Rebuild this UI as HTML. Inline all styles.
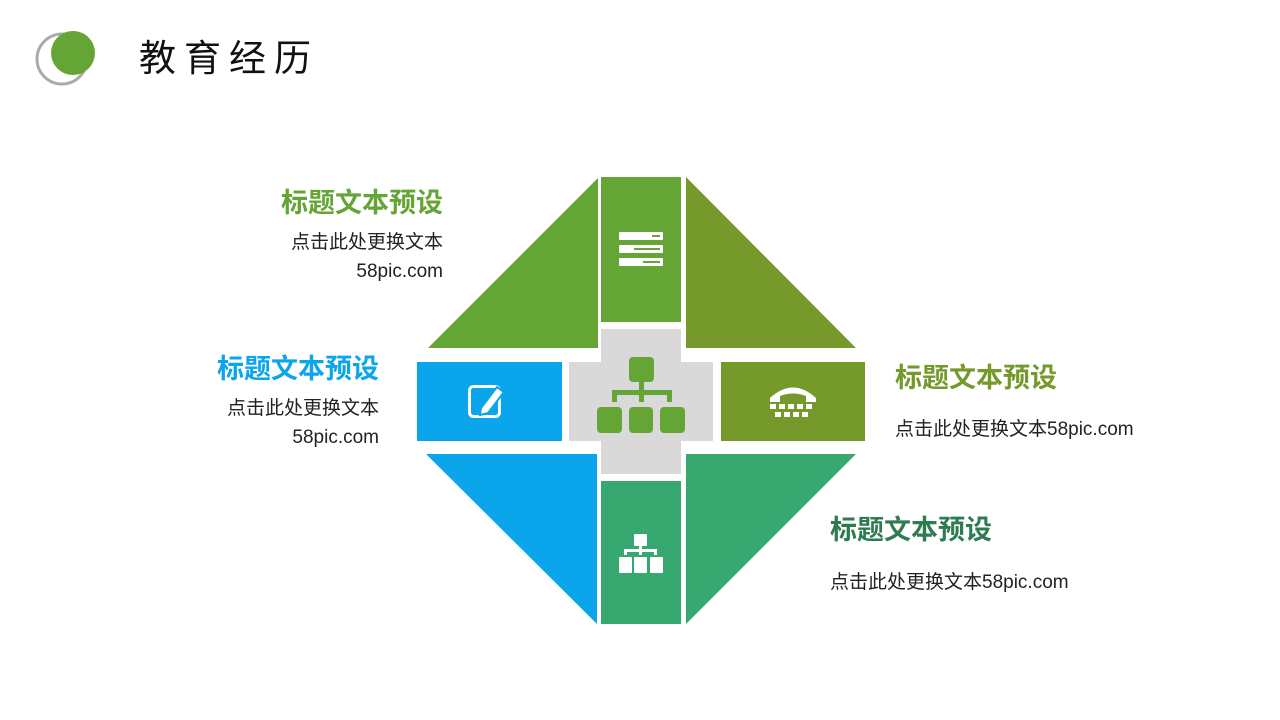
<!DOCTYPE html>
<html><head><meta charset="utf-8"><style>
body{margin:0;width:1280px;height:720px;background:#fff;position:relative;overflow:hidden;font-family:"Liberation Sans","Noto Sans CJK SC",sans-serif}
.t{position:absolute;font-weight:bold;font-size:27px;white-space:nowrap;line-height:32px}
.b{position:absolute;font-size:19px;color:#222;white-space:nowrap;line-height:29px}
.r{text-align:right}
</style></head><body>
<svg width="1280" height="720" style="position:absolute;left:0;top:0">
<circle cx="62" cy="59" r="25" fill="none" stroke="#aaa" stroke-width="3"/>
<circle cx="73" cy="53" r="22" fill="#65a536"/>
<polygon points="428,348 598,178 598,348" fill="#65a536"/>
<rect x="601" y="177" width="80" height="145" fill="#65a536"/>
<polygon points="686,177 686,348 856,348" fill="#76992b"/>
<rect x="417" y="362" width="145" height="79" fill="#0aa5ea"/>
<rect x="601" y="329" width="80" height="145" fill="#d9d9d9"/>
<rect x="569" y="362" width="144" height="79" fill="#d9d9d9"/>
<rect x="721" y="362" width="144" height="79" fill="#76992b"/>
<polygon points="426,454 597,454 597,624" fill="#0aa5ea"/>
<rect x="601" y="481" width="80" height="143" fill="#37a86f"/>
<polygon points="686,454 856,454 686,624" fill="#37a86f"/>
<g fill="#fff"><rect x="619" y="232" width="44" height="8" rx="1"/><rect x="619" y="245" width="44" height="8" rx="1"/><rect x="619" y="258" width="44" height="8" rx="1"/></g>
<g fill="#65a536"><rect x="652" y="235" width="8" height="2"/><rect x="634" y="248" width="26" height="2"/><rect x="643" y="261" width="17" height="2"/></g>
<g fill="#65a536"><rect x="629" y="357" width="25" height="25" rx="4"/><rect x="639" y="380" width="5" height="12"/><rect x="612" y="390" width="60" height="5"/><rect x="612" y="390" width="5" height="12"/><rect x="667" y="390" width="5" height="12"/><rect x="639" y="390" width="5" height="12"/>
<rect x="597" y="407" width="25" height="26" rx="4"/><rect x="629" y="407" width="24" height="26" rx="4"/><rect x="660" y="407" width="25" height="26" rx="4"/></g>
<g fill="#fff"><rect x="634" y="534" width="13" height="12" rx="1"/><rect x="639" y="545" width="3" height="6"/><rect x="624" y="549" width="33" height="3"/><rect x="624" y="549" width="3" height="6"/><rect x="654" y="549" width="3" height="6"/><rect x="639" y="549" width="3" height="6"/>
<rect x="619" y="557" width="13" height="16" rx="1"/><rect x="634" y="557" width="13" height="16" rx="1"/><rect x="650" y="557" width="13" height="16" rx="1"/></g>
<rect x="469.5" y="386.5" width="30" height="30" rx="4" fill="none" stroke="#fff" stroke-width="3"/>
<polygon points="481,408 497,387 504,392 488,413 480,415" fill="#fff" stroke="#0aa5ea" stroke-width="2"/>
<path d="M770 398 Q793 377 816 398 L816 402 L806 402 L806 396 Q793 391 780 396 L780 402 L770 402 Z" fill="#fff"/>
<g fill="#fff"><rect x="770" y="404" width="6" height="5"/><rect x="779" y="404" width="6" height="5"/><rect x="788" y="404" width="6" height="5"/><rect x="797" y="404" width="6" height="5"/><rect x="806" y="404" width="6" height="5"/>
<rect x="775" y="412" width="6" height="5"/><rect x="784" y="412" width="6" height="5"/><rect x="793" y="412" width="6" height="5"/><rect x="802" y="412" width="6" height="5"/></g>
</svg>
<div style="position:absolute;left:139px;top:37px;font-size:37px;letter-spacing:8px;color:#111;line-height:44px">教育经历</div>
<div class="t r" style="right:837px;top:187px;color:#65a536">标题文本预设</div>
<div class="b r" style="right:837px;top:228px">点击此处更换文本<br>58pic.com</div>
<div class="t r" style="right:901px;top:353px;color:#0aa5ea">标题文本预设</div>
<div class="b r" style="right:901px;top:394px">点击此处更换文本<br>58pic.com</div>
<div class="t" style="left:895px;top:362px;color:#76992b">标题文本预设</div>
<div class="b" style="left:895px;top:415px">点击此处更换文本58pic.com</div>
<div class="t" style="left:830px;top:514px;color:#2e7d52">标题文本预设</div>
<div class="b" style="left:830px;top:568px">点击此处更换文本58pic.com</div>
</body></html>
